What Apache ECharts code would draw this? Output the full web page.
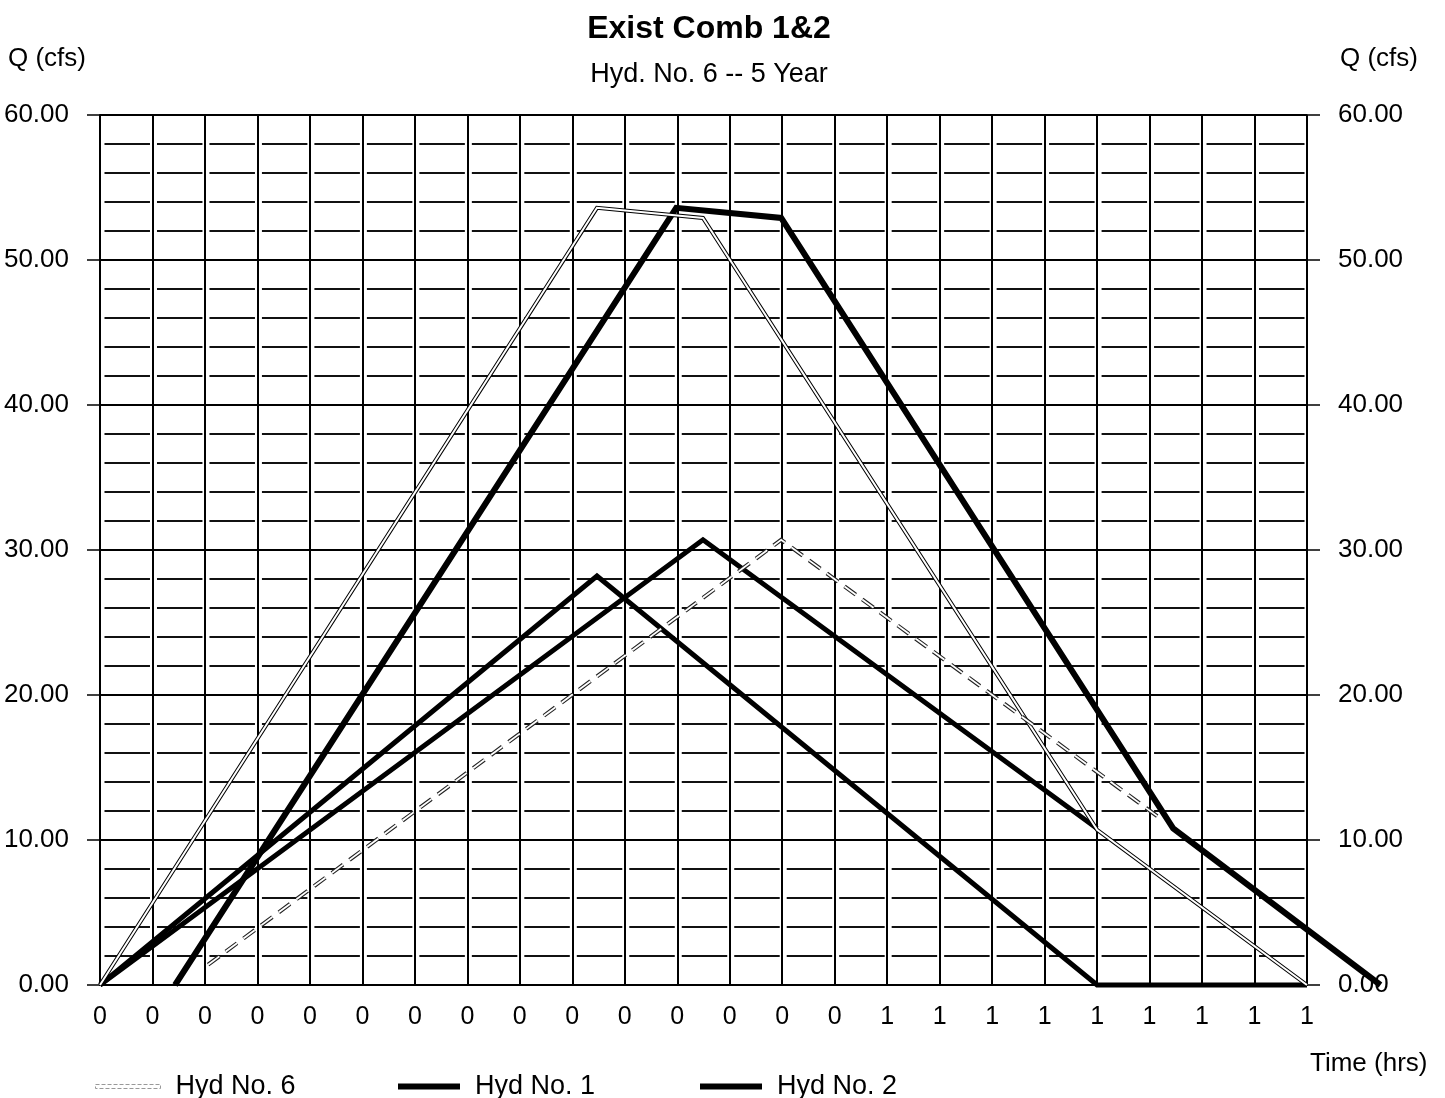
<!DOCTYPE html>
<html>
<head>
<meta charset="utf-8">
<script src="https://cdn.jsdelivr.net/npm/echarts@6/dist/echarts.min.js"></script>
<style>html,body{margin:0;padding:0;background:#fff;}#chart{width:1445px;height:1098px;}</style>
</head>
<body>
<div id="chart"></div>
<script>
// ---- data (x = time-step index along the axis, y = Q in cfs) ----
const TIME_TICKS = ['0','0','0','0','0','0','0','0','0','0','0','0','0','0','0','1','1','1','1','1','1','1','1','1'];
const HYD6 = [[0,0],[9.47,53.6],[11.49,52.9],[19,10.7],[23,0]];
const HYD1 = [[0,0],[9.47,28.2],[19,0],[23,0]];
const HYD2 = [[0,0],[11.49,30.7],[19,10.8]];
const HYD6_OFFSET = [[1.43,0],[10.98,53.6],[12.98,52.9],[20.45,10.8],[24.4,0]];
const HYD2_OFFSET = [[2.06,1.4],[12.98,30.7],[20.2,11.5]];
const Y_MIN = 0, Y_MAX = 60, Y_STEP = 10;

const FONT = "'Liberation Sans', Arial, sans-serif";
const chart = echarts.init(document.getElementById('chart'), null, {renderer: 'canvas'});

// plot area
const G_LEFT = 100, G_RIGHT = 138, G_TOP = 115, G_BOTTOM = 113;
const PLOT_W = 1445 - G_LEFT - G_RIGHT;
const X_MAX = TIME_TICKS.length - 1;
const OFFSET_MAX = Math.max(...HYD6_OFFSET.map(p => p[0]));
const CELL = PLOT_W / X_MAX;
const GAP = 7;

function line(name, data, color, width, z, type, axis) {
  return {
    name: name, type: 'line', data: data, symbol: 'none', clip: false, z: z,
    xAxisIndex: axis || 0, yAxisIndex: axis ? 2 : 0,
    color: color,
    lineStyle: {color: color, width: width, type: type || 'solid', cap: 'butt', join: 'miter'},
    emphasis: {disabled: true}, silent: true
  };
}

const yAxisBase = {
  type: 'value', min: Y_MIN, max: Y_MAX, interval: Y_STEP,
  axisLabel: {formatter: v => v.toFixed(2), fontSize: 26, color: '#000', fontFamily: FONT, margin: 31},
  axisTick: {show: true, length: 13, lineStyle: {color: '#000', width: 1.5}},
};

const option = {
  backgroundColor: '#fff',
  animation: false,
  textStyle: {fontFamily: FONT, color: '#000'},
  title: [
    {text: 'Exist Comb 1&2', left: 704, top: 8, textAlign: 'center',
     textStyle: {fontSize: 32, fontWeight: 'bold', color: '#000', fontFamily: FONT}},
    {text: 'Hyd. No. 6 -- 5 Year', left: 704, top: 56, textAlign: 'center',
     textStyle: {fontSize: 27, fontWeight: 'normal', color: '#000', fontFamily: FONT}}
  ],
  grid: [
    {left: G_LEFT, right: G_RIGHT, top: G_TOP, bottom: G_BOTTOM, containLabel: false},
    {left: G_LEFT, width: CELL * OFFSET_MAX, top: G_TOP, bottom: G_BOTTOM, containLabel: false}
  ],
  xAxis: [
    {
      type: 'value', min: 0, max: X_MAX, interval: 1, gridIndex: 0,
      axisLine: {show: true, onZero: false, lineStyle: {color: '#000', width: 2}},
      axisTick: {show: false},
      axisLabel: {formatter: v => TIME_TICKS[Math.round(v)], fontSize: 25, color: '#000', fontFamily: FONT, margin: 20},
      splitLine: {show: true, lineStyle: {color: '#000', width: 2}}
    },
    {type: 'value', min: 0, max: OFFSET_MAX, gridIndex: 1, show: false}
  ],
  yAxis: [
    Object.assign({}, yAxisBase, {
      position: 'left', gridIndex: 0,
      axisLine: {show: true, lineStyle: {color: '#000', width: 2}},
      splitLine: {show: true, lineStyle: {color: '#000', width: 2}},
      minorTick: {show: false, splitNumber: 5},
      minorSplitLine: {show: true, lineStyle: {color: '#111', width: 2,
        type: [CELL - GAP, GAP], dashOffset: CELL - GAP / 2 - 1}}
    }),
    Object.assign({}, yAxisBase, {
      position: 'right', gridIndex: 0,
      axisLine: {show: true, lineStyle: {color: '#000', width: 1.5}},
      splitLine: {show: false}
    }),
    {type: 'value', min: Y_MIN, max: Y_MAX, gridIndex: 1, show: false}
  ],
  legend: [
    {data: ['Hyd No. 6'], left: 90, top: 1068, icon: 'rect', itemWidth: 65, itemHeight: 4, selectedMode: false,
     itemStyle: {color: '#fff', borderColor: '#999', borderWidth: 1, borderType: 'dashed'},
     textStyle: {fontSize: 27, color: '#000', fontFamily: FONT, padding: [0, 0, 0, 10]}},
    {data: ['Hyd No. 1'], left: 393, top: 1068, icon: 'rect', itemWidth: 62, itemHeight: 6, selectedMode: false,
     itemStyle: {color: '#000'},
     textStyle: {fontSize: 27, color: '#000', fontFamily: FONT, padding: [0, 0, 0, 10]}},
    {data: ['Hyd No. 2'], left: 695, top: 1068, icon: 'rect', itemWidth: 62, itemHeight: 6, selectedMode: false,
     itemStyle: {color: '#000'},
     textStyle: {fontSize: 27, color: '#000', fontFamily: FONT, padding: [0, 0, 0, 10]}}
  ],
  graphic: [
    {type: 'text', left: 8, top: 46, silent: true,
     style: {text: 'Q (cfs)', fontSize: 26, fill: '#000', fontFamily: FONT}},
    {type: 'text', left: 1340, top: 46, silent: true,
     style: {text: 'Q (cfs)', fontSize: 26, fill: '#000', fontFamily: FONT}},
    {type: 'text', left: 1310, top: 1051, silent: true,
     style: {text: 'Time (hrs)', fontSize: 26, fill: '#000', fontFamily: FONT}}
  ],
  series: [
    line('Hyd No. 1', HYD1, '#000', 5, 3),
    line('Hyd No. 2', HYD2, '#000', 5, 3),
    line('Hyd No. 6 (offset)', HYD6_OFFSET, '#000', 6, 3, null, 1),
    line('Hyd No. 6', HYD6, '#000', 4, 4),
    line('Hyd No. 6 core', HYD6, '#fff', 2, 4),
    line('Hyd No. 2 (offset)', HYD2_OFFSET, '#222', 4, 4, [14, 8]),
    line('Hyd No. 2 (offset) core', HYD2_OFFSET, '#fff', 1.8, 4, [14, 8])
  ]
};
chart.setOption(option);
</script>
</body>
</html>
